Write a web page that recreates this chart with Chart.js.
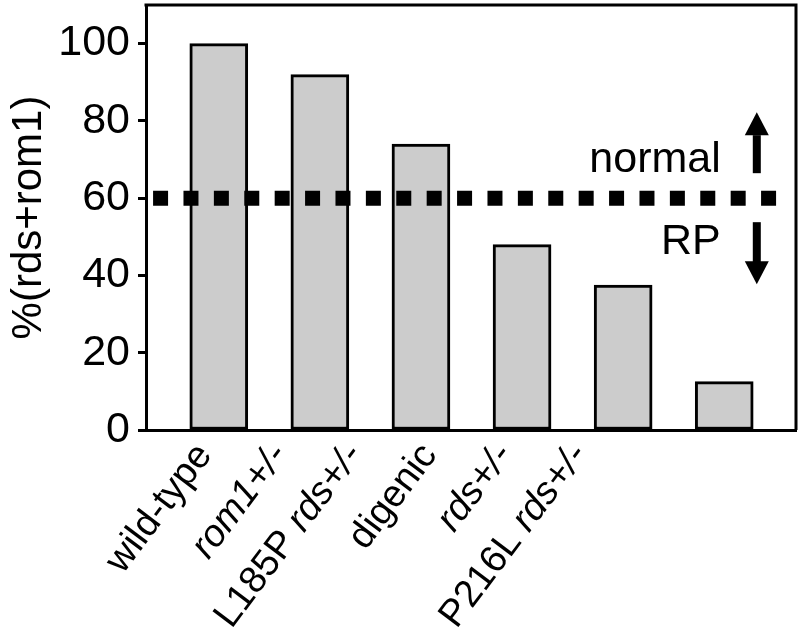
<!DOCTYPE html>
<html>
<head>
<meta charset="utf-8">
<script src="https://cdn.jsdelivr.net/npm/chart.js@4/dist/chart.umd.min.js"></script>
<style>
  body { margin: 0; background: #fff; }
</style>
</head>
<body>
<canvas id="rdsChart" width="800" height="640"></canvas>
<script>
// values
const categories = ['wild-type', 'rom1+/-', 'L185P rds+/-', 'digenic', 'rds+/-', 'P216L rds+/-']
const values = [100, 92, 74, 48, 37.5, 12.5]
const yTicks = [0, 20, 40, 60, 80, 100]
const yMax = 110
const threshold = 60
const thresholdFrom = -0.65
const thresholdTo = 5.52
const aboveText = 'normal'
const belowText = 'RP'
const yTitle = '%(rds+rom1)'

// gene names are set in italics inside the labels
const italicRe = /(rom1\+\/-|rds\+\/-)/
const FONT = '"Liberation Sans", Arial, sans-serif'
const FS = 43
const LABEL_FS = 38

// top and right edge of the box
const frame = {
  id: 'frame',
  afterDraw(chart) {
    const { ctx, chartArea: a } = chart
    ctx.save()
    ctx.strokeStyle = '#000'
    ctx.lineWidth = 3
    ctx.beginPath()
    ctx.moveTo(a.left - 1.5, a.top)
    ctx.lineTo(a.right, a.top)
    ctx.lineTo(a.right, a.bottom)
    ctx.stroke()
    ctx.restore()
  }
}

// rotated category labels, mixed upright / italic
const xLabels = {
  id: 'xLabels',
  afterDraw(chart) {
    const { ctx, chartArea: a } = chart
    ctx.save()
    ctx.fillStyle = '#000'
    ctx.textBaseline = 'alphabetic'
    ctx.textAlign = 'left'
    categories.forEach((cat, i) => {
      const parts = cat.split(italicRe).filter(p => p)
      const fonts = parts.map(p => (italicRe.test(p) ? 'italic ' : '') + LABEL_FS + 'px ' + FONT)
      let total = 0
      const widths = parts.map((p, k) => {
        ctx.font = fonts[k]
        const w = ctx.measureText(p).width
        total += w
        return w
      })
      ctx.save()
      ctx.translate(a.left + 67 + i * 75, a.bottom + 25)
      ctx.rotate(-53 * Math.PI / 180)
      let cx = -total
      parts.forEach((p, k) => {
        ctx.font = fonts[k]
        ctx.fillText(p, cx, 0)
        cx += widths[k]
      })
      ctx.restore()
    })
    ctx.restore()
  }
}

const drawArrow = (ctx, x, yBase, yTip) => {
  const dir = yTip < yBase ? -1 : 1
  const head = 23
  ctx.fillRect(x - 4, Math.min(yBase, yTip - dir * head), 8, Math.abs(yTip - dir * head - yBase) + 1)
  ctx.beginPath()
  ctx.moveTo(x, yTip)
  ctx.lineTo(x - 12, yTip - dir * head)
  ctx.lineTo(x + 12, yTip - dir * head)
  ctx.closePath()
  ctx.fill()
}

// "normal" / "RP" with arrows around the threshold
const notes = {
  id: 'notes',
  afterDraw(chart) {
    const { ctx } = chart
    const y0 = chart.scales.y.getPixelForValue(threshold)
    const xr = chart.scales.x.getPixelForValue(thresholdTo)
    ctx.save()
    ctx.fillStyle = '#000'
    ctx.font = FS + 'px ' + FONT
    ctx.textAlign = 'right'
    ctx.textBaseline = 'alphabetic'
    ctx.fillText(aboveText, xr - 56, y0 - 26)
    ctx.fillText(belowText, xr - 56, y0 + 56)
    drawArrow(ctx, xr - 20, y0 - 26, y0 - 86)
    drawArrow(ctx, xr - 20, y0 + 24, y0 + 86)
    ctx.restore()
  }
}

window.addEventListener('load', () => {
  new Chart(document.getElementById('rdsChart'), {
    type: 'bar',
    data: {
      datasets: [{
        type: 'line',
        data: [{ x: thresholdFrom, y: threshold }, { x: thresholdTo, y: threshold }],
        borderColor: '#000',
        borderWidth: 15,
        borderDash: [15, 15.4],
        borderCapStyle: 'butt',
        pointRadius: 0,
        order: 0
      }, {
        data: values.map((v, i) => ({ x: i, y: v })),
        backgroundColor: '#cccccc',
        borderColor: '#000',
        borderWidth: 3,
        borderSkipped: false,
        barThickness: 58,
        order: 1
      }]
    },
    options: {
      responsive: false,
      animation: false,
      layout: { padding: { top: 5, right: 4, left: 0, bottom: 0 } },
      plugins: { legend: { display: false }, tooltip: { enabled: false } },
      scales: {
        x: {
          type: 'linear',
          min: -0.72,
          max: 5.71,
          grid: { display: false },
          border: { color: '#000', width: 3 },
          ticks: { display: false },
          afterBuildTicks: (s) => { s.ticks = [] },
          afterFit: (s) => { s.height = 210 }
        },
        y: {
          min: 0,
          max: yMax,
          grid: { drawOnChartArea: false, tickLength: 8, tickWidth: 3, tickColor: '#000' },
          border: { color: '#000', width: 3 },
          ticks: { color: '#000', padding: 8, font: { size: FS, family: FONT } },
          afterBuildTicks: (s) => { s.ticks = yTicks.map(v => ({ value: v })) },
          afterFit: (s) => {
            s.width = 146
            s.paddingTop = 0
            s.paddingBottom = 0
          },
          title: {
            display: true,
            text: yTitle,
            color: '#000',
            font: { size: 42, family: FONT },
            padding: { top: 4, bottom: 0 }
          }
        }
      }
    },
    plugins: [frame, xLabels, notes]
  })
})
</script>
</body>
</html>
